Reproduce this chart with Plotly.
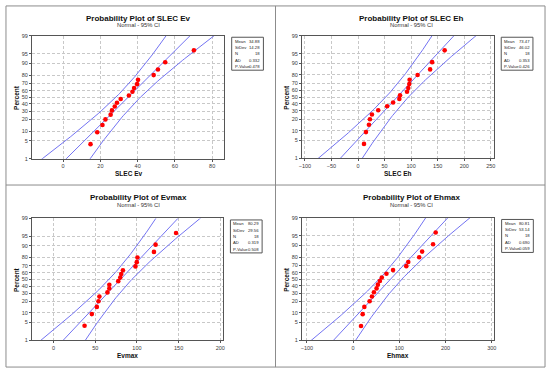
import plotly.graph_objects as go
from statistics import NormalDist

# ---------------- data ----------------
titles = ["SLEC Ev", "SLEC Eh", "Evmax", "Ehmax"]

slec_ev = [14.7, 18.3, 21.1, 22.7, 25.5, 26.2, 27.7, 28.9, 30.9, 35.3, 37.2, 38.1,
           39.7, 40.2, 48.6, 50.9, 54.8, 70.2]
slec_eh = [11.2, 14.9, 20.5, 22.4, 26.2, 38.0, 54.8, 66.0, 77.8, 79.1, 92.2, 94.6,
           96.5, 97.1, 112.1, 135.7, 139.5, 163.1]
evmax = [37.2, 45.9, 51.9, 53.9, 55.0, 64.6, 66.9, 66.9, 77.6, 80.0, 81.2, 83.2,
         98.2, 99.8, 100.6, 120.4, 122.4, 146.9]
ehmax = [17.1, 20.7, 24.3, 35.7, 40.7, 45.0, 50.7, 53.6, 57.9, 62.1, 72.1, 86.4,
         115.0, 119.3, 142.9, 149.3, 172.9, 178.6]

means = [34.88, 73.47, 80.29, 80.81]
stdevs = [14.28, 46.02, 29.56, 53.14]
ns = [18, 18, 18, 18]
ads = ["0.332", "0.353", "0.319", "0.690"]
pvalues = ["0.478", "0.426", "0.508", "0.059"]
mean_txt = ["34.88", "73.47", "80.29", "80.81"]
sd_txt = ["14.28", "46.02", "29.56", "53.14"]

x_ticks = [[0, 20, 40, 60, 80],
           [-100, -50, 0, 50, 100, 150, 200, 250],
           [0, 50, 100, 150, 200],
           [-100, 0, 100, 200, 300]]
x_ranges = [[-16.7, 86.5], [-105.6, 255.6], [-25.8, 203.2], [-110.6, 305.1]]

pct_ticks = [1, 5, 10, 20, 30, 40, 50, 60, 70, 80, 90, 95, 99]

datasets = [slec_ev, slec_eh, evmax, ehmax]

# ---------------- layout geometry (pixels) ----------------
W, H = 550, 373
plot_boxes = [  # left, right, top, bottom
    (29.3, 223.3, 33.3, 158.3),
    (301.7, 495.3, 33.3, 158.0),
    (29.3, 222.0, 219.0, 342.8),
    (301.7, 495.7, 218.5, 343.0),
]
panel_centers = [137, 412, 137, 412]
panel_tops = [3, 3, 185, 185]

nd = NormalDist()


def px(x):
    return x / W


def py(y):
    return 1 - y / H


zt = [nd.inv_cdf(p / 100) for p in pct_ticks]
y_range = [zt[0], zt[-1]]

LINE_BLUE = "#7373f2"
DOT_RED = "#ff0000"
FONT = "Liberation Sans"
NARROW = "Liberation Sans Narrow, Liberation Sans"
TICK_COLOR = "#3a3a3a"

fig = go.Figure()
annotations = []
shapes = []

for k in range(4):
    xa = "x" if k == 0 else f"x{k+1}"
    ya = "y" if k == 0 else f"y{k+1}"
    data = sorted(datasets[k])
    n = len(data)
    zpos = [nd.inv_cdf((i + 1 - 0.3) / (n + 0.4)) for i in range(n)]
    mu, sd, nn = means[k], stdevs[k], ns[k]

    # fitted line and 95% CI bands
    zs = [-3.2 + 0.05 * j for j in range(int(6.4 / 0.05) + 1)]
    fit = [mu + sd * z for z in zs]
    half = [1.96 * sd * ((1 / nn) + z * z / (2 * nn)) ** 0.5 for z in zs]
    lo = [f - h for f, h in zip(fit, half)]
    hi = [f + h for f, h in zip(fit, half)]
    for xs in (lo, fit, hi):
        fig.add_trace(go.Scatter(x=xs, y=zs, mode="lines", xaxis=xa, yaxis=ya,
                                 line=dict(color=LINE_BLUE, width=1),
                                 hoverinfo="skip", showlegend=False))
    fig.add_trace(go.Scatter(x=data, y=zpos, mode="markers", xaxis=xa, yaxis=ya,
                             marker=dict(color=DOT_RED, size=4.6, line=dict(width=0)),
                             showlegend=False))

    l, r, t, b = plot_boxes[k]
    axis_common = dict(showline=True, mirror=True, linecolor="#555555", linewidth=1,
                       showgrid=True, gridcolor="#c8c8c8", griddash="3px,2px", gridwidth=1,
                       ticks="outside", ticklen=2, tickcolor="#555555",
                       tickfont=dict(family=FONT, size=5.5, color=TICK_COLOR),
                       zeroline=False, fixedrange=True)
    fig.layout[("xaxis" if k == 0 else f"xaxis{k+1}")] = dict(
        domain=[px(l), px(r)], range=x_ranges[k], anchor=ya,
        tickvals=x_ticks[k], ticktext=[str(v).replace("-", "\u2212") for v in x_ticks[k]],
        **axis_common)
    fig.layout[("yaxis" if k == 0 else f"yaxis{k+1}")] = dict(
        domain=[py(b), py(t)], range=y_range, anchor=xa,
        tickvals=zt, ticktext=[str(p) for p in pct_ticks], **axis_common)

    cx = panel_centers[k]
    top = panel_tops[k]
    annotations.append(dict(text=f"<b>Probability Plot of {titles[k]}</b>", x=px(cx), y=py(top + 12.5),
                            xref="paper", yref="paper", showarrow=False, xanchor="center",
                            yanchor="middle", font=dict(family=FONT, size=8, color="#111")))
    annotations.append(dict(text="Normal - 95% CI", x=px(cx), y=py(top + 19.8),
                            xref="paper", yref="paper", showarrow=False, xanchor="center",
                            yanchor="middle", font=dict(family=FONT, size=5.8, color="#333")))
    annotations.append(dict(text=f"<b>{titles[k]}</b>", x=px((l + r) / 2), y=py(b + 15),
                            xref="paper", yref="paper", showarrow=False, xanchor="center",
                            yanchor="middle", font=dict(family=FONT, size=6.5, color="#111")))
    annotations.append(dict(text="<b>Percent</b>", x=px(l - 15.5), y=py((t + b) / 2),
                            xref="paper", yref="paper", showarrow=False, xanchor="center",
                            yanchor="middle", textangle=-90,
                            font=dict(family=FONT, size=6.5, color="#111")))

    # stats box
    bl, bt = r + 7.5, t + 1.5
    bw, bh = 32, 33.5
    shapes.append(dict(type="rect", xref="paper", yref="paper", x0=px(bl), x1=px(bl + bw),
                       y0=py(bt + bh), y1=py(bt), line=dict(color="#555555", width=1),
                       fillcolor="white"))
    labels = ["Mean", "StDev", "N", "AD", "P-Value"]
    values = [mean_txt[k], sd_txt[k], str(ns[k]), ads[k], pvalues[k]]
    for j in range(5):
        yy = bt + 4 + j * 6.4
        annotations.append(dict(text=labels[j], x=px(bl + 1.0), y=py(yy), xref="paper", yref="paper",
                                showarrow=False, xanchor="left", yanchor="middle",
                                font=dict(family=NARROW, size=4.2, color="#222")))
        annotations.append(dict(text=values[j], x=px(bl + bw - 1.0), y=py(yy), xref="paper",
                                yref="paper", showarrow=False, xanchor="right", yanchor="middle",
                                font=dict(family=NARROW, size=4.2, color="#222")))

# panel frames
frame = dict(color="#8c8c8c", width=1)
shapes.append(dict(type="rect", xref="paper", yref="paper", x0=px(3), x1=px(547),
                   y0=py(370), y1=py(3), line=frame))
shapes.append(dict(type="line", xref="paper", yref="paper", x0=px(275), x1=px(275),
                   y0=py(370), y1=py(3), line=frame))
shapes.append(dict(type="line", xref="paper", yref="paper", x0=px(3), x1=px(547),
                   y0=py(185), y1=py(185), line=frame))

fig.update_layout(width=W, height=H, margin=dict(l=0, r=0, t=0, b=0),
                  paper_bgcolor="white", plot_bgcolor="white",
                  annotations=annotations, shapes=shapes, showlegend=False)

fig.write_html("out.html", config={"displayModeBar": False},
               post_script="document.body.style.margin='0';document.body.style.overflow='hidden';")
